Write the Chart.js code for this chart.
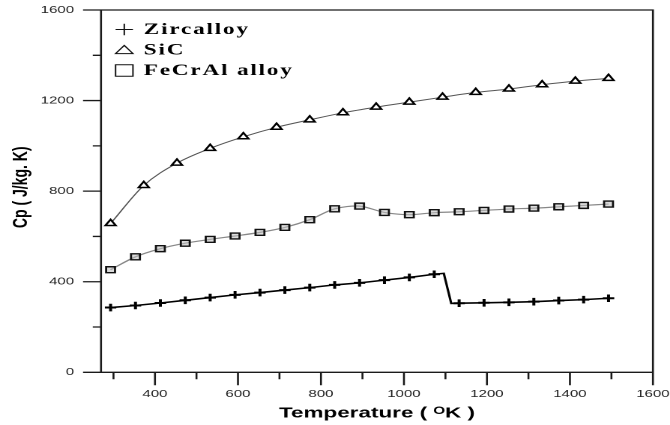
<!DOCTYPE html>
<html>
<head>
<meta charset="utf-8">
<script src="https://cdn.jsdelivr.net/npm/chart.js@4.4.1/dist/chart.umd.min.js"></script>
<style>
  html, body { margin: 0; padding: 0; background: #fff; overflow: hidden; }
  /* the reference is stretched sideways by ~1.5, so draw at 447 wide and stretch */
  #wrap { position: absolute; left: 0; top: 0; width: 447px; height: 425px;
          transform: scaleX(1.4989); transform-origin: 0 0; }
</style>
</head>
<body>
<div id="wrap"><canvas id="chart"></canvas></div>
<script>
// Temperature (K) and Cp (J/kg.K)
const zircTemp = [293, 353, 413, 473, 533, 593, 653, 713, 773, 833, 893, 953, 1013, 1073, 1096, 1114, 1133, 1193, 1253, 1313, 1373, 1433, 1493];
const zircCp   = [286, 295, 306, 318, 330, 342, 352, 363, 374, 386, 395, 407, 419, 433, 437, 304, 305, 307, 309, 312, 317, 321, 327];

const sicTemp = [293, 373, 453, 533, 613, 693, 773, 853, 933, 1013, 1093, 1173, 1253, 1333, 1413, 1493];
const sicCp   = [657, 825, 924, 989, 1040, 1082, 1115, 1146, 1171, 1193, 1215, 1236, 1251, 1270, 1286, 1298];

const fecrTemp = [293, 353, 413, 473, 533, 593, 653, 713, 773, 833, 893, 953, 1013, 1073, 1133, 1193, 1253, 1313, 1373, 1433, 1493];
const fecrCp   = [453, 510, 546, 570, 587, 602, 618, 640, 674, 722, 734, 706, 696, 705, 709, 715, 721, 725, 731, 737, 743];

const seriesNames = ['Zircalloy', 'SiC', 'FeCrAl alloy'];

const xTicks  = [300, 400, 500, 600, 700, 800, 900, 1000, 1100, 1200, 1300, 1400, 1500, 1600];
const xLabels = [400, 600, 800, 1000, 1200, 1400, 1600];
const yTicks  = [0, 200, 400, 600, 800, 1000, 1200, 1400, 1600];
const yLabels = [0, 400, 800, 1200, 1600];

const pts = (xs, ys) => xs.map((x, i) => ({ x: x, y: ys[i] }));

// axis box + long/short tick marks
const framePlugin = {
  id: 'frame',
  afterDraw(chart) {
    const { ctx, chartArea: a, scales: { x, y } } = chart;
    ctx.save();
    ctx.strokeStyle = '#1a1a1a';
    ctx.lineWidth = 1.3;
    ctx.beginPath();
    ctx.rect(a.left, a.top, a.right - a.left, a.bottom - a.top);
    yTicks.forEach(v => {
      const py = y.getPixelForValue(v);
      const len = yLabels.includes(v) ? 12 : 5.5;
      ctx.moveTo(a.left - len, py);
      ctx.lineTo(a.left, py);
    });
    xTicks.forEach(v => {
      const px = x.getPixelForValue(v);
      const len = xLabels.includes(v) ? 13 : 7;
      ctx.moveTo(px, a.bottom);
      ctx.lineTo(px, a.bottom + len);
    });
    ctx.stroke();
    ctx.restore();
  }
};

// legend in the upper left corner of the plot
const legendPlugin = {
  id: 'cornerLegend',
  afterDraw(chart) {
    const { ctx, chartArea: a } = chart;
    ctx.save();
    ctx.strokeStyle = '#111';
    ctx.lineWidth = 1;
    ctx.fillStyle = '#000';
    ctx.font = 'bold 15.5px "Liberation Serif", "Times New Roman", serif';
    ctx.textBaseline = 'middle';
    ctx.textAlign = 'left';
    if ('letterSpacing' in ctx) ctx.letterSpacing = '1.2px';
    chart.data.datasets.forEach((ds, i) => {
      const cx = a.left + 15.5;
      const cy = a.top + 19.5 + i * 20.5;
      const r = 5.8;
      ctx.beginPath();
      if (ds.pointStyle === 'cross') {
        ctx.moveTo(cx - r, cy); ctx.lineTo(cx + r, cy);
        ctx.moveTo(cx, cy - r); ctx.lineTo(cx, cy + r);
      } else if (ds.pointStyle === 'triangle') {
        ctx.moveTo(cx - r, cy + 3.6); ctx.lineTo(cx + r, cy + 3.6); ctx.lineTo(cx, cy - 4.6); ctx.closePath();
      } else {
        ctx.rect(cx - r, cy - r, 2 * r, 2 * r);
      }
      ctx.stroke();
      ctx.fillText(ds.label, a.left + 28.5, cy + 0.5);
    });
    ctx.restore();
  }
};

new Chart(document.getElementById('chart'), {
  type: 'line',
  data: {
    datasets: [
      {
        label: seriesNames[0],
        data: pts(zircTemp, zircCp),
        borderColor: '#000',
        borderWidth: 1.6,
        tension: 0,
        pointStyle: 'cross',
        // the two points at the step carry no marker
        pointRadius: c => ((zircTemp[c.dataIndex] - 293) % 60 === 0 ? 3.8 : 0),
        pointBorderColor: '#000',
        pointBorderWidth: 2
      },
      {
        label: seriesNames[1],
        data: pts(sicTemp, sicCp),
        borderColor: '#555',
        borderWidth: 1,
        cubicInterpolationMode: 'monotone',
        pointStyle: 'triangle',
        pointRadius: 4,
        pointBorderColor: '#000',
        pointBackgroundColor: '#fff',
        pointBorderWidth: 1.5
      },
      {
        label: seriesNames[2],
        data: pts(fecrTemp, fecrCp),
        borderColor: '#888',
        borderWidth: 1.2,
        tension: 0.3,
        pointStyle: 'rect',
        pointRadius: 4.2,
        pointBorderColor: '#111',
        pointBackgroundColor: 'rgba(190,190,190,0.55)',
        pointBorderWidth: 1.4
      }
    ]
  },
  options: {
    responsive: true,
    maintainAspectRatio: false,
    devicePixelRatio: 2,
    animation: false,
    layout: { padding: { left: 0, top: 10, right: 11.4, bottom: 0 } },
    plugins: { legend: { display: false }, tooltip: { enabled: false } },
    scales: {
      x: {
        type: 'linear',
        min: 270,
        max: 1600,
        afterBuildTicks: s => { s.ticks = xTicks.map(v => ({ value: v })); },
        afterFit: s => { s.height = 52.7; s.paddingLeft = 0; s.paddingRight = 0; },
        grid: { display: false, drawTicks: false },
        border: { display: false },
        ticks: {
          autoSkip: false,
          maxRotation: 0,
          padding: 16,
          color: '#222',
          font: { family: '"Liberation Sans", Arial, sans-serif', size: 10 },
          callback: v => (xLabels.includes(v) ? String(v) : '')
        },
        title: {
          display: true,
          text: 'Temperature ( \u1D3CK )',
          color: '#000',
          padding: { top: 0, bottom: 2.5 },
          font: { family: '"Liberation Sans", Arial, sans-serif', size: 15, weight: 'bold' }
        }
      },
      y: {
        min: 0,
        max: 1600,
        afterBuildTicks: s => { s.ticks = yTicks.map(v => ({ value: v })); },
        afterFit: s => { s.width = 67.4; s.paddingTop = 0; s.paddingBottom = 0; },
        grid: { display: false, drawTicks: false },
        border: { display: false },
        ticks: {
          padding: 18,
          color: '#222',
          font: { family: '"Liberation Sans", Arial, sans-serif', size: 10 },
          callback: v => (yLabels.includes(v) ? String(v) : '')
        },
        title: {
          display: true,
          text: '  Cp ( J/kg. K)',
          color: '#000',
          padding: { top: 5.6, bottom: 0 },
          font: { family: '"Liberation Sans", Arial, sans-serif', size: 14, weight: 'bold' }
        }
      }
    }
  },
  plugins: [framePlugin, legendPlugin]
});
</script>
</body>
</html>
